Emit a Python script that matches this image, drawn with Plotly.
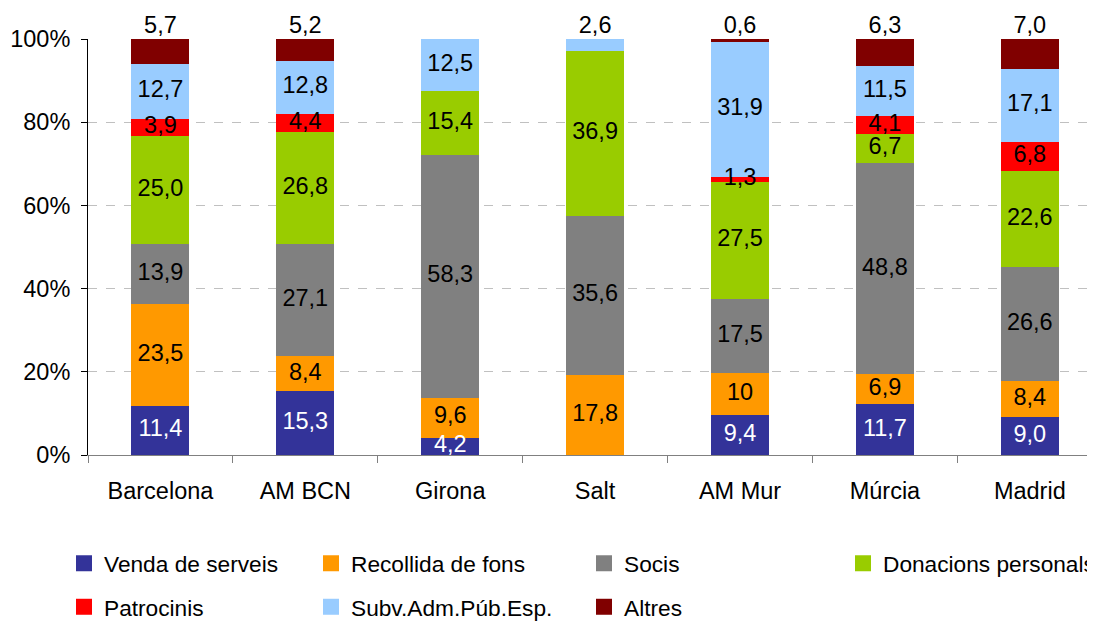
import plotly.graph_objects as go

categories = ["Barcelona", "AM BCN", "Girona", "Salt", "AM Mur", "Múrcia", "Madrid"]

venda = [11.4, 15.3, 4.2, None, 9.4, 11.7, 9.0]
recollida = [23.5, 8.4, 9.6, 17.8, 10, 6.9, 8.4]
socis = [13.9, 27.1, 58.3, 35.6, 17.5, 48.8, 26.6]
donacions = [25.0, 26.8, 15.4, 36.9, 27.5, 6.7, 22.6]
patrocinis = [3.9, 4.4, None, None, 1.3, 4.1, 6.8]
subv = [12.7, 12.8, 12.5, 2.6, 31.9, 11.5, 17.1]
altres = [5.7, 5.2, None, None, 0.6, 6.3, 7.0]

series_names = ["Venda de serveis", "Recollida de fons", "Socis", "Donacions personals",
                "Patrocinis", "Subv.Adm.Púb.Esp.", "Altres"]
series_values = [venda, recollida, socis, donacions, patrocinis, subv, altres]
colors = ["#333399", "#FF9900", "#808080", "#99CC00", "#FF0000", "#99CCFF", "#800000"]
text_colors = ["white", "black", "black", "black", "black", "black", "black"]

FONT = "Liberation Sans, Arial, sans-serif"
FS = 23.5
LFS = 22.7


def fmt(v):
    if v is None:
        return ""
    if isinstance(v, int):
        return str(v)
    return f"{v:.1f}".replace(".", ",")


fig = go.Figure()

# stacked bars (normalised to 100 %)
for name, vals, col in zip(series_names, series_values, colors):
    fig.add_trace(go.Bar(
        x=categories, y=vals, name=name,
        marker=dict(color=col, line=dict(width=0)),
        showlegend=False, hoverinfo="skip",
    ))

# data labels: centred in each segment, or above the bar for the small top segment
n = len(categories)
totals = [sum(s[i] for s in series_values if s[i] is not None) for i in range(n)]
top_label = [altres[i] if altres[i] is not None else (subv[i] if subv[i] < 5 else None)
             for i in range(n)]

lab_x, lab_y, lab_t, lab_c = [], [], [], []
for i in range(n):
    cum = 0.0
    for sname, vals, tcol in zip(series_names, series_values, text_colors):
        v = vals[i]
        if v is None:
            continue
        is_top = (top_label[i] is not None and v == top_label[i] and
                  (sname == "Altres" or (altres[i] is None and sname == "Subv.Adm.Púb.Esp.")))
        if not is_top:
            lab_x.append(categories[i])
            lab_y.append((cum + v / 2) / totals[i] * 100)
            lab_t.append(fmt(v))
            lab_c.append(tcol)
        cum += v

fig.add_trace(go.Scatter(
    x=lab_x, y=lab_y, text=lab_t, mode="text", textposition="middle center",
    textfont=dict(family=FONT, size=FS, color=lab_c),
    showlegend=False, hoverinfo="skip", cliponaxis=True,
))

top_x = [c for c, t in zip(categories, top_label) if t is not None]
top_t = [fmt(t) for t in top_label if t is not None]
fig.add_trace(go.Scatter(
    x=top_x, y=[100] * len(top_x), text=top_t, mode="text", textposition="top center",
    textfont=dict(family=FONT, size=FS, color="black"),
    showlegend=False, hoverinfo="skip", cliponaxis=False,
))

# legend entries (one legend per column)
legend_of = {
    "Venda de serveis": "legend", "Patrocinis": "legend",
    "Recollida de fons": "legend2", "Subv.Adm.Púb.Esp.": "legend2",
    "Socis": "legend3", "Altres": "legend3",
    "Donacions personals": "legend4",
}
for name, col in zip(series_names, colors):
    fig.add_trace(go.Scatter(
        x=[None], y=[None], mode="markers", name=name,
        marker=dict(symbol="square", size=16, color=col),
        legend=legend_of[name], legendgroup=name, showlegend=True,
        hoverinfo="skip",
    ))

# the page body adds an 8 px offset, so the figure is 8 px smaller than the window
W, H = 1087, 613
L, T, B = 80, 31, 166
pw = W - L
ph = H - T - B


def px_x(p):
    return (p - L) / pw


def px_y(p):
    return (H - B - p) / ph


leg_common = dict(
    orientation="v", yanchor="top", xanchor="left",
    font=dict(family=FONT, size=LFS, color="black"),
    bgcolor="rgba(0,0,0,0)", borderwidth=0, tracegroupgap=11,
    itemclick=False, itemdoubleclick=False,
)
LEG_TOP = 534

fig.update_layout(
    width=W, height=H,
    barmode="stack", barnorm="percent", bargap=0.6,
    paper_bgcolor="white", plot_bgcolor="white",
    margin=dict(l=L, r=0, t=T, b=B, autoexpand=False, pad=0),
    font=dict(family=FONT, size=FS, color="black"),
    legend=dict(x=px_x(56), y=px_y(LEG_TOP), **leg_common),
    legend2=dict(x=px_x(303), y=px_y(LEG_TOP), **leg_common),
    legend3=dict(x=px_x(576), y=px_y(LEG_TOP), **leg_common),
    legend4=dict(x=px_x(835), y=px_y(LEG_TOP), **leg_common),
    xaxis=dict(
        type="category", range=[-0.5, 6.45],
        showline=True, linecolor="#808080", linewidth=1,
        ticks="outside", tickson="boundaries", ticklen=7, tickcolor="#808080",
        tickfont=dict(family=FONT, size=FS, color="black"),
        showgrid=False, zeroline=False, ticklabelstandoff=15,
    ),
    yaxis=dict(
        range=[0, 100], dtick=20, ticksuffix="%",
        showline=True, linecolor="black", linewidth=1,
        ticks="outside", ticklen=6, tickcolor="black",
        tickfont=dict(family=FONT, size=FS, color="black"),
        showgrid=True, gridcolor="#C0C0C0", griddash="dash", gridwidth=1,
        zeroline=False, ticklabelstandoff=6,
    ),
)

fig.write_html("out.html")
